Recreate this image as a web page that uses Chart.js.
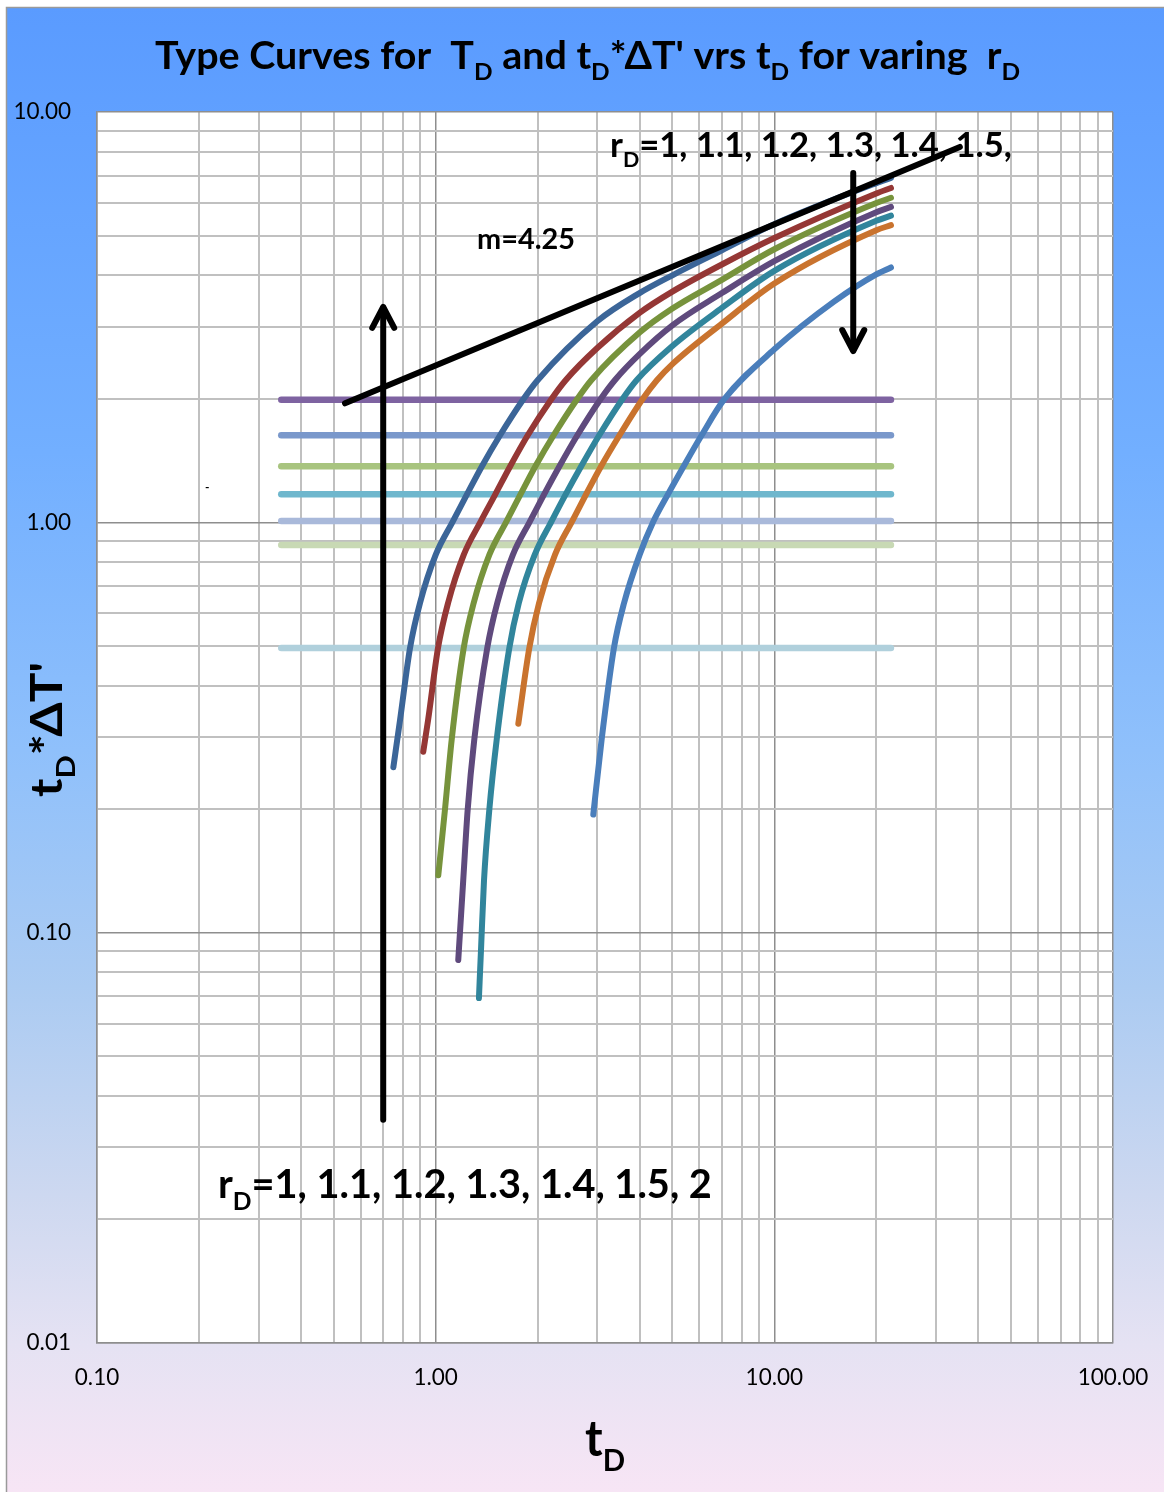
<!DOCTYPE html>
<html>
<head>
<meta charset="utf-8">
<script src="https://cdn.jsdelivr.net/npm/chart.js@4.4.1/dist/chart.umd.min.js"></script>
<style>
  html, body { margin: 0; padding: 0; background: #fff; }
  canvas { display: block; }
</style>
</head>
<body>
<canvas id="grafico" width="1164" height="1492"></canvas>
<script>
// tD values and tD*dT' values (rD = 1 ... 2)
const tdR10 = [0.75, 0.785, 0.84, 0.899, 1.0, 1.125, 1.237, 1.37, 1.549, 1.811, 2.0, 3.0, 4.0, 5.0, 7.0, 10, 20, 22.1];
const yR10  = [0.253, 0.33, 0.494, 0.636, 0.833, 1.007, 1.17, 1.37, 1.63, 1.99, 2.22, 3.09, 3.62, 4.0, 4.6, 5.33, 6.71, 6.91];

const tdR11 = [0.919, 0.95, 1.016, 1.088, 1.21, 1.36, 1.50, 1.66, 1.87, 2.19, 2.42, 3.0, 4.0, 5.0, 7.0, 10, 20, 22.1];
const yR11  = [0.276, 0.33, 0.494, 0.636, 0.833, 1.007, 1.17, 1.37, 1.63, 1.99, 2.22, 2.66, 3.24, 3.65, 4.25, 4.93, 6.33, 6.53];

const tdR12 = [1.018, 1.065, 1.115, 1.21, 1.295, 1.44, 1.62, 1.78, 1.97, 2.23, 2.61, 2.88, 4.0, 5.0, 7.0, 10, 20, 22.1];
const yR12  = [0.138, 0.199, 0.295, 0.494, 0.636, 0.833, 1.007, 1.17, 1.37, 1.63, 1.99, 2.22, 2.9, 3.32, 3.9, 4.63, 6.0, 6.18];

const tdR13 = [1.166, 1.206, 1.243, 1.30, 1.42, 1.52, 1.69, 1.90, 2.09, 2.32, 2.62, 3.06, 3.38, 4.0, 5.0, 7.0, 10, 20, 22.1];
const yR13  = [0.0858, 0.134, 0.199, 0.295, 0.494, 0.636, 0.833, 1.007, 1.17, 1.37, 1.63, 1.99, 2.22, 2.57, 3.02, 3.62, 4.33, 5.7, 5.87];

const tdR14 = [1.342, 1.361, 1.389, 1.44, 1.514, 1.65, 1.76, 1.96, 2.2, 2.42, 2.69, 3.04, 3.55, 3.92, 5.0, 7.0, 10, 20, 22.1];
const yR14  = [0.0693, 0.0908, 0.134, 0.199, 0.295, 0.494, 0.636, 0.833, 1.007, 1.17, 1.37, 1.63, 1.99, 2.22, 2.69, 3.33, 4.1, 5.43, 5.59];

const tdR15 = [1.754, 1.89, 2.02, 2.25, 2.53, 2.78, 3.08, 3.49, 4.07, 4.5, 5.0, 7.0, 10, 20, 22.1];
const yR15  = [0.323, 0.494, 0.636, 0.833, 1.007, 1.17, 1.37, 1.63, 1.99, 2.22, 2.43, 3.05, 3.82, 5.15, 5.3];

const tdR20 = [2.92, 3.09, 3.36, 3.6, 4.0, 4.4, 4.85, 5.4, 6.1, 7.1, 10, 15, 20, 22.1];
const yR20  = [0.194, 0.295, 0.494, 0.636, 0.833, 1.007, 1.17, 1.37, 1.63, 1.99, 2.64, 3.45, 4.02, 4.18];

// flat TD lines
const tdPlano = [0.35, 22.1];
const nivelesPlano = [1.99, 1.63, 1.37, 1.17, 1.007, 0.881, 0.494];

// m = 4.25 straight line
const tdM = [0.54, 35.3];
const yM  = [1.95, 8.22];

// axis labels
const decadasX = [0.1, 1, 10, 100];
const etiquetasX = ['0.10', '1.00', '10.00', '100.00'];
const decadasY = [0.01, 0.1, 1, 10];
const etiquetasY = ['0.01', '0.10', '1.00', '10.00'];

// arrows (data units)
const flechaArriba = { td: 0.70, desde: 0.035, hasta: 3.33 };
const flechaAbajo  = { td: 17.1, desde: 7.1, hasta: 2.63 };

const coloresCurva = ['#3b6598', '#953735', '#77933c', '#5f4a7d', '#31859c', '#c9732e', '#4a7ebb'];
const coloresPlano = ['#7e63a1', '#7a98cb', '#a8c47f', '#6fb7cd', '#a9b9da', '#c8d9b4', '#b0d0dc'];

const curvas = [
  [tdR10, yR10], [tdR11, yR11], [tdR12, yR12], [tdR13, yR13],
  [tdR14, yR14], [tdR15, yR15], [tdR20, yR20]
];

const puntos = (xs, ys) => xs.map((x, i) => ({ x: x, y: ys[i] }));

const datasets = [];
datasets.push({ data: puntos(tdM, yM), borderColor: '#000', borderWidth: 6 });
curvas.forEach((c, i) => {
  datasets.push({
    data: puntos(c[0], c[1]), borderColor: coloresCurva[i], borderWidth: 6,
    cubicInterpolationMode: 'monotone'
  });
});
nivelesPlano.forEach((v, i) => {
  datasets.push({ data: puntos(tdPlano, [v, v]), borderColor: coloresPlano[i], borderWidth: 6.5 });
});

function ticksLog(decadas) {
  const t = [];
  for (let d = 0; d < decadas.length - 1; d++) {
    for (let k = 1; k < 10; k++) t.push(k * decadas[d]);
  }
  t.push(decadas[decadas.length - 1]);
  return t;
}
const esDecada = v => Math.abs(Math.log10(v) - Math.round(Math.log10(v))) < 1e-6;
const colorGrid = ctx => (ctx.tick && esDecada(ctx.tick.value)) ? '#8e8e8e' : '#c0c0c0';

const FUENTE = 'Lato, "Open Sans", "DejaVu Sans", sans-serif';

// bold text with subscripts fitted to a width; with tam the glyph height is kept and the width squeezed
function textoRico(c, partes, x, y, ancho, tam) {
  const base = tam || 100;
  let total = 0;
  for (const [t, sub] of partes) {
    c.font = `bold ${sub ? base * 0.62 : base}px ${FUENTE}`;
    total += c.measureText(t).width;
  }
  const k = ancho / total;
  const f = tam ? 1 : k;
  c.save();
  c.translate(x, y);
  if (tam) c.scale(k, 1);
  let cx = 0;
  for (const [t, sub] of partes) {
    c.font = `bold ${(sub ? base * 0.62 : base) * f}px ${FUENTE}`;
    c.fillText(t, cx, sub ? base * f * 0.3 : 0);
    cx += c.measureText(t).width;
  }
  c.restore();
}

function flecha(c, x, y0, y1) {
  const dir = Math.sign(y1 - y0);
  c.beginPath(); c.moveTo(x, y0); c.lineTo(x, y1); c.stroke();
  c.beginPath(); c.moveTo(x - 11, y1 - dir * 20); c.lineTo(x, y1 + dir * 1); c.lineTo(x + 11, y1 - dir * 20); c.stroke();
}

const fondo = {
  id: 'fondo',
  beforeDraw(chart) {
    const c = chart.ctx, a = chart.chartArea;
    c.save();
    c.fillStyle = '#fff';
    c.fillRect(0, 0, chart.width, chart.height);
    const g = c.createLinearGradient(0, 7, 0, chart.height);
    g.addColorStop(0, '#5a9bff');
    g.addColorStop(0.3, '#72afff');
    g.addColorStop(0.5, '#8fc0fb');
    g.addColorStop(0.66, '#abcbf2');
    g.addColorStop(0.8, '#cdd8f0');
    g.addColorStop(0.9, '#e5e2f3');
    g.addColorStop(1, '#f7e5f5');
    c.fillStyle = g;
    c.fillRect(6, 7, chart.width - 6, chart.height - 7);
    c.strokeStyle = '#9a9a9a';
    c.lineWidth = 1.5;
    c.beginPath(); c.moveTo(6.5, chart.height); c.lineTo(6.5, 7.5); c.lineTo(chart.width, 7.5); c.stroke();
    c.fillStyle = '#fff';
    c.fillRect(a.left, a.top, a.right - a.left, a.bottom - a.top);
    c.restore();
  },
  afterDraw(chart) {
    const c = chart.ctx, sx = chart.scales.x, sy = chart.scales.y;
    c.save();
    // arrows
    c.strokeStyle = '#000'; c.lineWidth = 6; c.lineCap = 'round'; c.lineJoin = 'round';
    flecha(c, sx.getPixelForValue(flechaArriba.td), sy.getPixelForValue(flechaArriba.desde), sy.getPixelForValue(flechaArriba.hasta));
    flecha(c, sx.getPixelForValue(flechaAbajo.td), sy.getPixelForValue(flechaAbajo.desde), sy.getPixelForValue(flechaAbajo.hasta));

    // tick labels
    c.fillStyle = '#000';
    c.font = `22.5px ${FUENTE}`;
    c.textBaseline = 'middle';
    c.textAlign = 'right';
    decadasY.forEach((v, i) => c.fillText(etiquetasY[i], 71, sy.getPixelForValue(v)));
    c.textAlign = 'center';
    decadasX.forEach((v, i) => c.fillText(etiquetasX[i], sx.getPixelForValue(v), 1378));

    // titles and notes
    c.textBaseline = 'alphabetic';
    c.textAlign = 'left';
    textoRico(c, [['Type Curves for  T', 0], ['D', 1], [' and t', 0], ['D', 1], ["*\u0394T' vrs t", 0], ['D', 1], [' for varing  r', 0], ['D', 1]], 155, 69, 865, 37.5);
    textoRico(c, [['r', 0], ['D', 1], ['=1, 1.1, 1.2, 1.3, 1.4, 1.5,', 0]], 610, 157, 402);
    textoRico(c, [['r', 0], ['D', 1], ['=1, 1.1, 1.2, 1.3, 1.4, 1.5, 2', 0]], 218, 1198, 494);
    textoRico(c, [['m=4.25', 0]], 477, 249, 98);
    textoRico(c, [['t', 0], ['D', 1]], 585, 1456, 40, 50);
    c.font = `bold 12px ${FUENTE}`;
    c.fillText('-', 205, 491);
    c.translate(62, 797);
    c.rotate(-Math.PI / 2);
    textoRico(c, [['t', 0], ['D', 1], ["*\u0394T'", 0]], 0, 0, 135, 44);
    c.restore();
  }
};

const ejeLog = (min, max, decadas) => ({
  type: 'logarithmic', min: min, max: max,
  afterBuildTicks: s => { s.ticks = ticksLog(decadas).map(v => ({ value: v })); },
  ticks: { display: false },
  grid: { drawTicks: false, color: colorGrid, lineWidth: ctx => (ctx.tick && esDecada(ctx.tick.value)) ? 1.5 : 2 },
  border: { display: true, color: '#8e8e8e', width: 1.5 }
});

const miGrafico = new Chart(document.getElementById('grafico').getContext('2d'), {
  type: 'line',
  data: { datasets: datasets },
  plugins: [fondo],
  options: {
    responsive: false,
    animation: false,
    layout: { padding: { left: 97, top: 112, right: 51, bottom: 149 } },
    elements: {
      point: { radius: 0, hitRadius: 0 },
      line: { borderCapStyle: 'round', borderJoinStyle: 'round', fill: false }
    },
    plugins: { legend: { display: false }, tooltip: { enabled: false } },
    scales: {
      x: ejeLog(0.1, 100, decadasX),
      y: ejeLog(0.01, 10, decadasY)
    }
  }
});
</script>
</body>
</html>
